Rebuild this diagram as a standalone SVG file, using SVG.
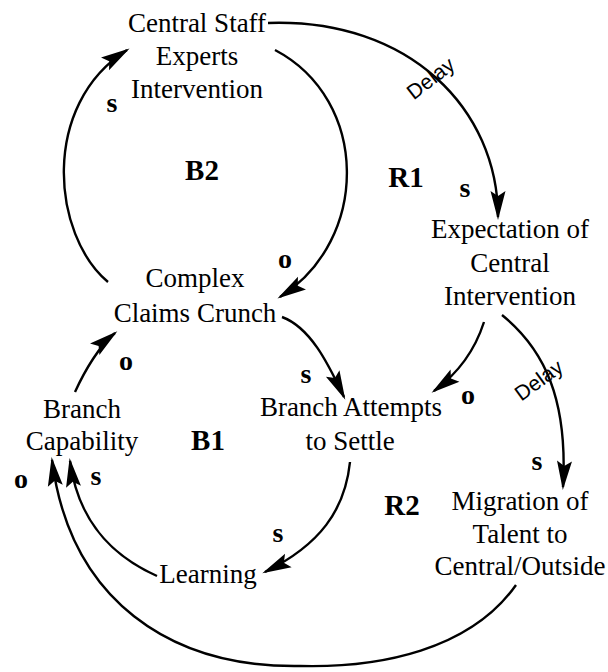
<svg xmlns="http://www.w3.org/2000/svg" width="608" height="672" viewBox="0 0 608 672">
  <style>
    .node { font-family: "Liberation Serif", "Times New Roman", serif; font-size: 27px; fill: #000; text-anchor: middle; }
    .pol { font-family: "Liberation Serif", "Times New Roman", serif; font-size: 28px; font-weight: bold; fill: #000; text-anchor: middle; }
    .loop { font-family: "Liberation Serif", "Times New Roman", serif; font-size: 29px; font-weight: bold; fill: #000; text-anchor: middle; }
    .delay { font-family: "Liberation Sans", Arial, sans-serif; font-size: 21px; fill: #000; text-anchor: middle; }
    .link { fill: none; stroke: #000; stroke-width: 2.4; marker-end: url(#ah); }
  </style>
  <defs>
    <marker id="ah" markerUnits="userSpaceOnUse" markerWidth="34" markerHeight="18" viewBox="-30 -9 34 18" refX="0" refY="0" orient="auto">
      <path d="M3,0 L-26,-7.5 L-21,0 L-26,7.5 Z" fill="#000"/>
    </marker>
  </defs>
  <rect width="608" height="672" fill="#fff"/>

  <!-- causal links -->
  <g id="connectors">
    <!-- Claims Crunch -> Central Staff Experts Intervention (s) -->
    <path class="link" d="M108,282 C52,235 40,105 127,50"/>
    <!-- Central Staff Experts Intervention -> Claims Crunch (o) -->
    <path class="link" d="M275,50 C370,100 370,240 280,297"/>
    <!-- Central Staff -> Expectation of Central Intervention (s, delayed) -->
    <path class="link" d="M268,23 C410,18 498,110 498,217"/>
    <!-- Expectation -> Branch Attempts to Settle (o) -->
    <path class="link" d="M484,322 C475,350 460,372 434,391"/>
    <!-- Expectation -> Migration of Talent (s, delayed) -->
    <path class="link" d="M502,315 C545,350 568,400 563,487"/>
    <!-- Claims Crunch -> Branch Attempts to Settle (s) -->
    <path class="link" d="M282,317 C312,328 330,368 344,397"/>
    <!-- Branch Attempts to Settle -> Learning (s) -->
    <path class="link" d="M350,462 C345,510 320,545 265,572"/>
    <!-- Learning -> Branch Capability (s) -->
    <path class="link" d="M157,576 C110,555 78,520 70,461"/>
    <!-- Migration of Talent -> Branch Capability (o) -->
    <path class="link" d="M516,585 C470,650 380,668 300,666 C170,668 70,600 52,460"/>
    <!-- Branch Capability -> Claims Crunch (o) -->
    <path class="link" d="M75,392 C85,370 100,345 115,333"/>
  </g>

  <!-- link polarities and delay marks -->
  <g id="link-labels">
    <text class="pol" x="112" y="112">s</text>
    <text class="pol" x="285" y="268">o</text>
    <text class="pol" x="465" y="197">s</text>
    <text class="pol" x="126" y="370">o</text>
    <text class="pol" x="306" y="383">s</text>
    <text class="pol" x="468" y="404">o</text>
    <text class="pol" x="537" y="470">s</text>
    <text class="pol" x="278" y="542">s</text>
    <text class="pol" x="21" y="488">o</text>
    <text class="pol" x="96" y="485">s</text>
    <text class="delay" transform="translate(435,84) rotate(-38)">Delay</text>
    <text class="delay" transform="translate(543,386) rotate(-36)">Delay</text>
  </g>

  <!-- loop identifiers -->
  <g id="loops">
    <text class="loop" x="202" y="180">B2</text>
    <text class="loop" x="406" y="187">R1</text>
    <text class="loop" x="208" y="450">B1</text>
    <text class="loop" x="402" y="515">R2</text>
  </g>

  <g id="n-central-staff">
    <text class="node" x="197" y="32">Central Staff</text>
    <text class="node" x="197" y="65">Experts</text>
    <text class="node" x="197" y="98">Intervention</text>
  </g>
  <g id="n-claims-crunch">
    <text class="node" x="195" y="287">Complex</text>
    <text class="node" x="195" y="322">Claims Crunch</text>
  </g>
  <g id="n-expectation">
    <text class="node" x="510" y="238">Expectation of</text>
    <text class="node" x="510" y="272">Central</text>
    <text class="node" x="510" y="305">Intervention</text>
  </g>
  <g id="n-branch-capability">
    <text class="node" x="82" y="418">Branch</text>
    <text class="node" x="82" y="450">Capability</text>
  </g>
  <g id="n-branch-attempts">
    <text class="node" x="351" y="416">Branch Attempts</text>
    <text class="node" x="350" y="450">to Settle</text>
  </g>
  <g id="n-learning">
    <text class="node" x="208" y="583">Learning</text>
  </g>
  <g id="n-migration">
    <text class="node" x="520" y="510">Migration of</text>
    <text class="node" x="520" y="543">Talent to</text>
    <text class="node" x="520" y="575">Central/Outside</text>
  </g>
</svg>
